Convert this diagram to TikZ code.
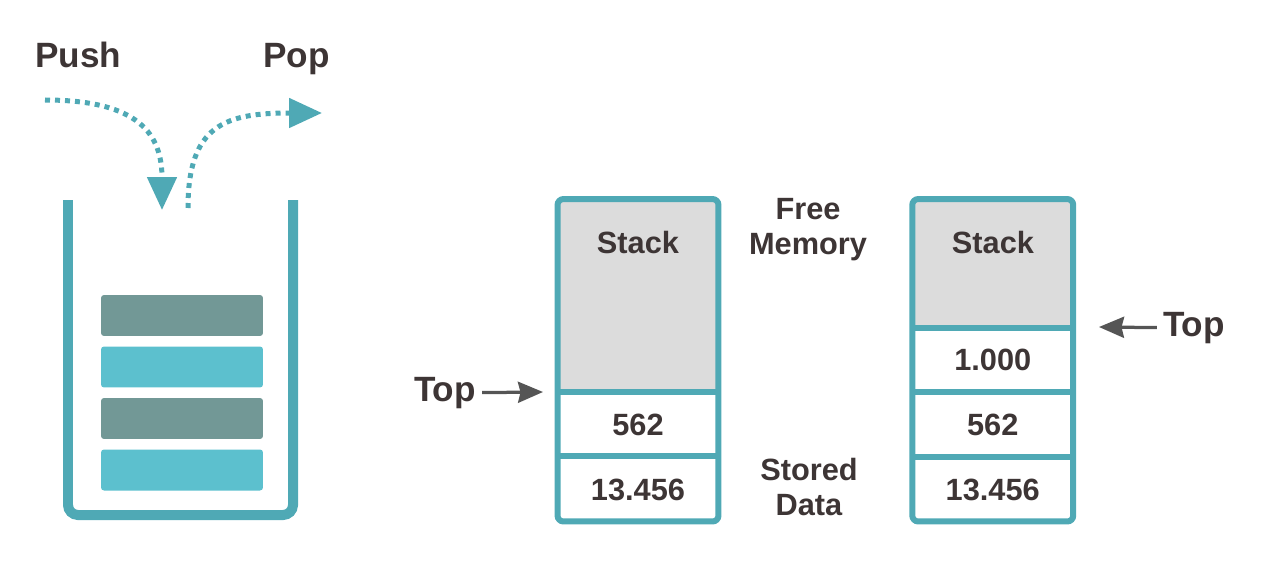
\documentclass[tikz,border=0pt]{standalone}
\usepackage{fontspec}
\setmainfont{Liberation Sans}
\usetikzlibrary{arrows.meta}
\definecolor{stackteal}{RGB}{79,169,181}
\definecolor{blockdark}{RGB}{114,152,150}
\definecolor{blocklight}{RGB}{92,192,206}
\definecolor{cellgray}{RGB}{220,220,220}
\definecolor{textdark}{RGB}{61,53,53}
\definecolor{arrowgray}{RGB}{85,85,85}
\begin{document}
\begin{tikzpicture}[x=0.02cm,y=-0.02cm,
  bigtext/.style={text=textdark,font=\bfseries\fontsize{20}{24}\selectfont},
  celltext/.style={text=textdark,font=\bfseries\fontsize{17.5}{20}\selectfont},
  cell/.style={celltext,minimum width=3.22cm,minimum height=1.28cm,inner sep=0pt,outer sep=0pt},
  border/.style={draw=stackteal,line width=0.12cm,rounded corners=0.12cm},
  divider/.style={draw=stackteal,line width=0.12cm},
  block/.style={minimum width=3.24cm,minimum height=0.82cm,rounded corners=0.06cm,inner sep=0pt},
  flow/.style={stackteal,line width=0.1cm,dash pattern=on 0.1cm off 0.1cm,
    -{Triangle[length=0.66cm,width=0.58cm]}},
  toparrow/.style={arrowgray,line width=0.065cm,-{Stealth[length=0.5cm,width=0.42cm,inset=0.05cm]}}]
\useasboundingbox (0,0) rectangle (1271,571);

% container with push / pop
\draw[stackteal,line width=0.2cm,rounded corners=0.2cm] (68,200) -- (68,515) -- (293,515) -- (293,200);
\node[block,fill=blockdark] (blk1) at (182,315.5) {};
\node[block,fill=blocklight] (blk2) at (182,367) {};
\node[block,fill=blockdark] (blk3) at (182,418.5) {};
\node[block,fill=blocklight] (blk4) at (182,470) {};
\node[bigtext,anchor=base] (push) at (78.5,68) {Push};
\node[bigtext,anchor=base] (pop) at (296.5,68) {Pop};
\draw[flow] (45,100) .. controls (140,100) and (162,135) .. (162,210);
\draw[flow] (188,208) .. controls (188,125) and (225,113) .. (322,113);

% first memory stack
\node[cell,fill=cellgray,minimum height=3.87cm] (cellA1) at (638,295.75) {};
\node[cell] (cellA2) at (638,424.5) {562};
\node[cell] (cellA3) at (638,489.5) {13.456};
\draw[divider] (cellA1.south west) -- (cellA1.south east);
\draw[divider] (cellA2.south west) -- (cellA2.south east);
\draw[border] (cellA1.north west) rectangle (cellA3.south east);
\node[celltext,anchor=base] (stackA) at (638,253) {Stack};
\node[bigtext] (topA) at (445,393) {Top};
\coordinate (tipA) at (543,392);
\draw[toparrow] (topA) -- (tipA);

% labels between
\node[celltext,align=center] (free) at (808,230) {Free\\Memory};
\node[celltext,align=center] (stored) at (809,487) {Stored\\Data};

% second memory stack
\node[cell,fill=cellgray,minimum height=2.58cm] (cellB1) at (992.75,263.5) {};
\node[cell] (cellB2) at (992.75,360.25) {1.000};
\node[cell] (cellB3) at (992.75,425) {562};
\node[cell] (cellB4) at (992.75,489.5) {13.456};
\draw[divider] (cellB1.south west) -- (cellB1.south east);
\draw[divider] (cellB2.south west) -- (cellB2.south east);
\draw[divider] (cellB3.south west) -- (cellB3.south east);
\draw[border] (cellB1.north west) rectangle (cellB4.south east);
\node[celltext,anchor=base] (stackB) at (993,253) {Stack};
\node[bigtext] (topB) at (1194,328) {Top};
\coordinate (tipB) at (1099,327);
\draw[toparrow] (topB) -- (tipB);
\end{tikzpicture}
\end{document}
